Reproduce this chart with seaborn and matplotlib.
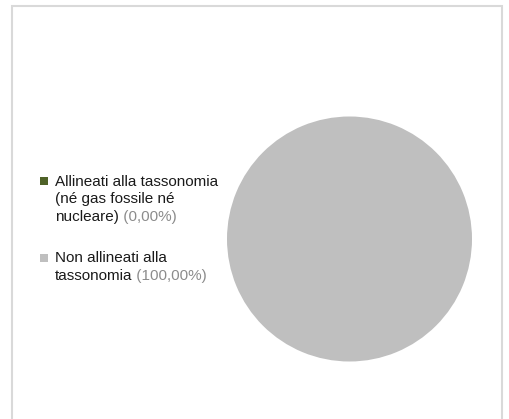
import textwrap
import matplotlib
matplotlib.use("Agg")
import matplotlib.pyplot as plt
from matplotlib.patches import Rectangle
import seaborn as sns

# dati del grafico
labels = ["Allineati alla tassonomia (né gas fossile né nucleare)",
          "Non allineati alla tassonomia"]
values = [0.0, 100.0]
colors = ["#4f6228", "#bfbfbf"]

sns.set_theme(style="white")
plt.rcParams['font.family'] = ['Liberation Sans', 'DejaVu Sans']

W, H = 509, 419
fig = plt.figure(figsize=(W / 100, H / 100), dpi=100)
fig.patch.set_facecolor("white")

# cornice grigia
fig.patches.append(Rectangle((12 / W, -0.02), 490 / W, 1.02 - 6 / H,
                             transform=fig.transFigure, fill=False,
                             edgecolor="#d9d9d9", linewidth=1.5))

# torta
ax = fig.add_axes([227 / W, (H - 362) / H, 245 / W, 246 / H])
ax.pie(values, colors=colors, startangle=90, counterclock=False,
       wedgeprops=dict(linewidth=0))
ax.set_aspect("equal")
ax.set_xlim(-1.0, 1.0)
ax.set_ylim(-1.0, 1.0)
ax.axis("off")

# legenda manuale (testo nero + percentuale grigia)
renderer = fig.canvas.get_renderer()
fs = 11
line_h = 17.5
tops = [186, 262]
for lab, val, col, y0 in zip(labels, values, colors, tops):
    lines = textwrap.wrap(lab, 25)
    pct = " (" + f"{val:.2f}".replace(".", ",") + "%)"
    fig.patches.append(Rectangle((40 / W, 1 - (y0 - 0.5) / H), 8 / W, 8 / H,
                                 transform=fig.transFigure, facecolor=col,
                                 edgecolor="none"))
    for i, ln in enumerate(lines):
        yb = y0 + i * line_h
        t = fig.text(55 / W, 1 - yb / H, ln, fontsize=fs, color="#1a1a1a",
                     va="baseline", ha="left")
        if i == len(lines) - 1:
            bb = t.get_window_extent(renderer=renderer)
            fig.text(bb.x1 / W, 1 - yb / H, pct, fontsize=fs, color="#8c8c8c",
                     va="baseline", ha="left")

fig.savefig("out.png", dpi=100, facecolor="white")
